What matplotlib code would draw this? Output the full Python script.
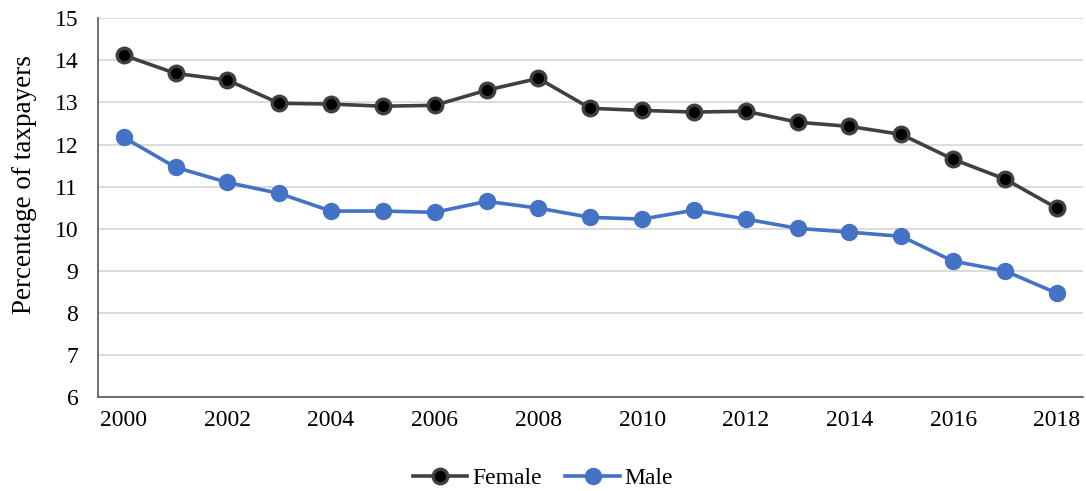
import matplotlib
matplotlib.use('Agg')
import matplotlib.pyplot as plt

# Share of taxpayers by sex, 2000-2018
years = list(range(2000, 2019))
female = [14.12, 13.69, 13.53, 12.98, 12.96, 12.91, 12.93, 13.29, 13.57, 12.86,
          12.81, 12.77, 12.79, 12.53, 12.43, 12.24, 11.65, 11.18, 10.49]
male = [12.17, 11.46, 11.10, 10.84, 10.42, 10.42, 10.39, 10.65, 10.49, 10.27,
        10.23, 10.44, 10.23, 10.01, 9.92, 9.82, 9.23, 9.00, 8.47]
xticks = list(range(2000, 2019, 2))
yticks = list(range(6, 16))

plt.rcParams['font.family'] = ['Liberation Serif', 'DejaVu Serif']

fig = plt.figure(figsize=(10.86, 4.91), dpi=100)
ax = fig.add_axes([0.090, 0.191, 0.907, 0.772])

ax.plot(years, female, color='#404040', lw=2.6, marker='o', ms=10.5,
        mfc='black', mec='#404040', mew=2.4, label='Female', zorder=3)
ax.plot(years, male, color='#4472C4', lw=2.6, marker='o', ms=11.5,
        mfc='#4472C4', mec='#4472C4', label='Male', zorder=3)

ax.set_xlim(1999.5, 2018.5)
ax.set_ylim(6, 15)
ax.set_xticks(xticks)
ax.set_yticks(yticks)
ax.tick_params(axis='both', length=0, labelsize=17, colors='black')
ax.tick_params(axis='x', pad=9)
ax.tick_params(axis='y', pad=14)
ax.grid(axis='y', color='#D9D9D9', lw=1.3)
ax.set_axisbelow(True)

for s in ['top', 'right']:
    ax.spines[s].set_visible(False)
ax.spines['left'].set_color('#595959')
ax.spines['bottom'].set_color('#595959')
ax.spines['left'].set_linewidth(1.2)
ax.spines['bottom'].set_linewidth(1.2)

ax.set_ylabel('Percentage of taxpayers', fontsize=19.5)
ax.yaxis.set_label_coords(-0.062, 0.56)

fig.legend(loc='lower center', bbox_to_anchor=(0.5, -0.04), ncol=2, frameon=False,
           fontsize=17, handlelength=2.3, columnspacing=1.0, handletextpad=0.2)

fig.savefig('out.png', dpi=100)
